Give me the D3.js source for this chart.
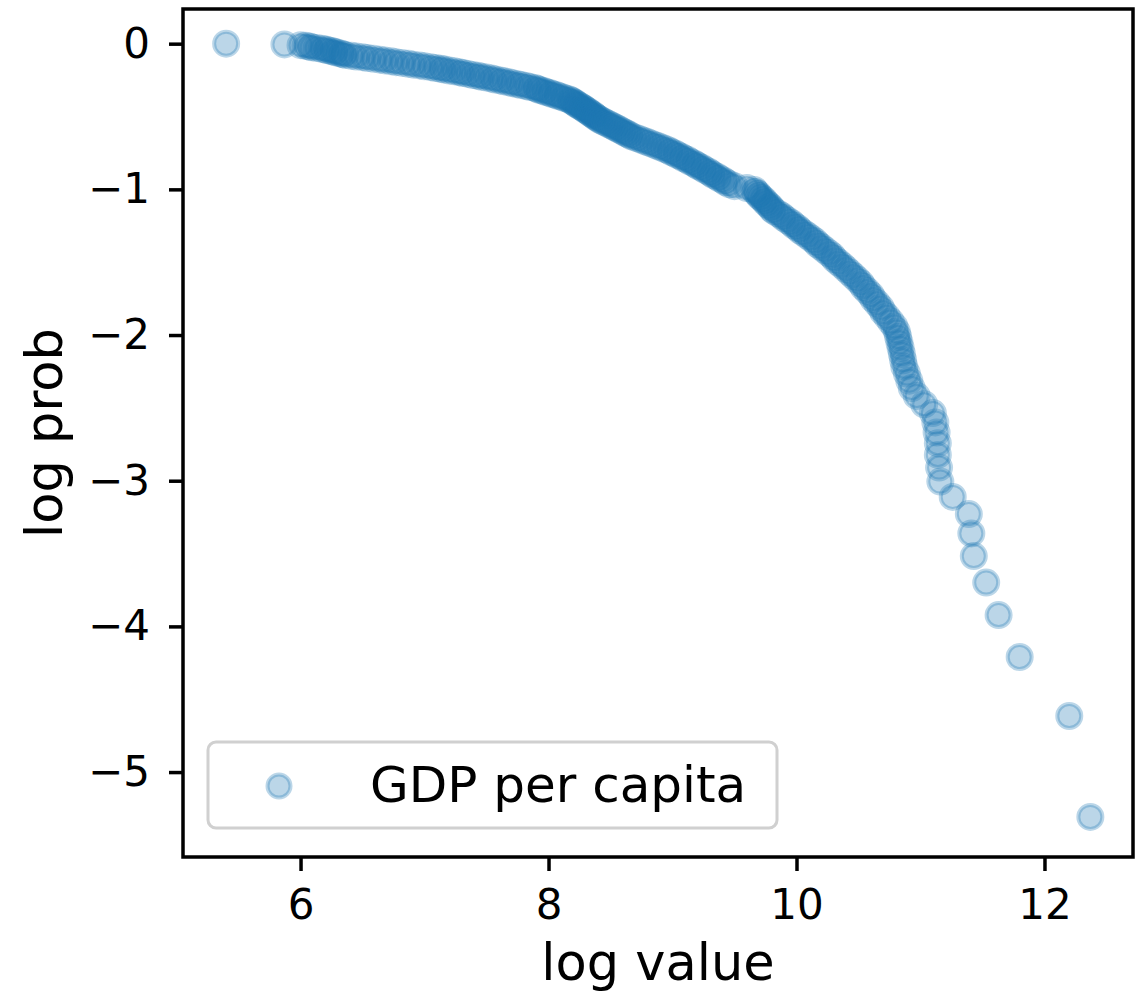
<!DOCTYPE html>
<html>
<head>
<meta charset="utf-8">
<script src="https://cdn.jsdelivr.net/npm/d3@7"></script>
<style>
  body { margin: 0; background: #fff; }
  svg { display: block; }
  text { font-family: "DejaVu Sans", sans-serif; }
</style>
</head>
<body>
<div id="chart"></div>
<script>
// log value of each point (sorted, lowest first)
const logValue = [
  5.40, 5.87, 6.00, 6.04, 6.07,
  6.09, 6.13, 6.17,
  6.20, 6.22, 6.25, 6.27, 6.29, 6.32, 6.34, 6.36,
  6.41, 6.45, 6.50, 6.54, 6.59, 6.64,
  6.68, 6.73, 6.77, 6.82, 6.87, 6.91,
  6.96, 7.00, 7.05, 7.09, 7.13, 7.16, 7.20, 7.24,
  7.28, 7.31, 7.35, 7.39, 7.43, 7.46, 7.50, 7.54, 7.57, 7.61, 7.64, 7.68, 7.71, 7.75, 7.78, 7.82,
  7.85, 7.89, 7.91, 7.93, 7.96, 7.98, 8.01, 8.03, 8.06, 8.08, 8.11, 8.13, 8.16,
  8.18, 8.19, 8.21, 8.22, 8.23, 8.25, 8.26, 8.28, 8.29, 8.30, 8.32, 8.33, 8.34, 8.36, 8.37, 8.38, 8.40, 8.41,
  8.43, 8.45, 8.47, 8.49, 8.51, 8.53, 8.55, 8.57, 8.59, 8.61, 8.63, 8.65, 8.67,
  8.70, 8.73, 8.76, 8.79, 8.82, 8.85, 8.88, 8.91, 8.94,
  8.97, 8.99, 9.02, 9.04, 9.07, 9.09, 9.12, 9.14, 9.17, 9.19, 9.21,
  9.24, 9.26, 9.29, 9.31, 9.33, 9.36, 9.38, 9.41, 9.43,
  9.46, 9.50, 9.60, 9.66,
  9.67, 9.69, 9.70, 9.72, 9.74, 9.75, 9.77, 9.79, 9.80,
  9.82, 9.85, 9.88, 9.90, 9.93, 9.96, 9.98, 10.01,
  10.03, 10.06, 10.09, 10.12, 10.15, 10.17, 10.20, 10.23, 10.26, 10.29,
  10.31, 10.34, 10.37, 10.40, 10.43, 10.46, 10.49,
  10.52, 10.54, 10.57, 10.60, 10.62, 10.65,
  10.68, 10.70, 10.73, 10.76, 10.79,
  10.81, 10.82, 10.83, 10.84, 10.85, 10.86,
  10.87, 10.89, 10.91, 10.93,
  10.97, 11.03, 11.10, 11.12, 11.13, 11.14, 11.14, 11.15, 11.16,
  11.26, 11.39, 11.41, 11.43, 11.53, 11.63, 11.80, 12.20, 12.37
];

// log prob of each point, same order
const logProb = [
  0.000, -0.005, -0.010, -0.015, -0.020,
  -0.025, -0.030, -0.035,
  -0.040, -0.046, -0.051, -0.056, -0.061, -0.067, -0.072, -0.077,
  -0.083, -0.088, -0.093, -0.099, -0.104, -0.110,
  -0.115, -0.121, -0.127, -0.132, -0.138, -0.144,
  -0.149, -0.155, -0.161, -0.167, -0.173, -0.178, -0.184, -0.190,
  -0.196, -0.202, -0.208, -0.215, -0.221, -0.227, -0.233, -0.239, -0.246, -0.252, -0.258, -0.265, -0.271, -0.278, -0.284, -0.291,
  -0.298, -0.304, -0.311, -0.318, -0.325, -0.332, -0.339, -0.346, -0.353, -0.360, -0.367, -0.374, -0.381,
  -0.388, -0.396, -0.403, -0.411, -0.418, -0.426, -0.433, -0.441, -0.449, -0.456, -0.464, -0.472, -0.480, -0.488, -0.496, -0.504, -0.513, -0.521,
  -0.529, -0.538, -0.546, -0.555, -0.563, -0.572, -0.581, -0.590, -0.599, -0.608, -0.617, -0.626, -0.636,
  -0.645, -0.654, -0.664, -0.674, -0.683, -0.693, -0.703, -0.713, -0.723,
  -0.734, -0.744, -0.754, -0.765, -0.776, -0.787, -0.797, -0.809, -0.820, -0.831, -0.842,
  -0.854, -0.866, -0.878, -0.890, -0.902, -0.914, -0.926, -0.939, -0.952,
  -0.965, -0.978, -0.991, -1.004,
  -1.018, -1.032, -1.046, -1.060, -1.074, -1.089, -1.104, -1.119, -1.134,
  -1.149, -1.165, -1.181, -1.197, -1.214, -1.231, -1.248, -1.265,
  -1.283, -1.301, -1.319, -1.338, -1.357, -1.377, -1.396, -1.417, -1.437, -1.458,
  -1.480, -1.502, -1.524, -1.547, -1.571, -1.595, -1.619,
  -1.645, -1.671, -1.697, -1.725, -1.753, -1.782,
  -1.812, -1.843, -1.874, -1.907, -1.941,
  -1.976, -2.013, -2.050, -2.089, -2.130, -2.173,
  -2.217, -2.264, -2.313, -2.364,
  -2.418, -2.475, -2.536, -2.600, -2.669, -2.743, -2.823, -2.910, -3.006,
  -3.111, -3.229, -3.362, -3.517, -3.699, -3.922, -4.210, -4.615, -5.308
];

const xTicks = [6, 8, 10, 12];
const yTicks = [0, -1, -2, -3, -4, -5];
const seriesName = "GDP per capita";

const width = 1146, height = 994;
const plot = { left: 183, top: 9, right: 1133, bottom: 857 };
const color = "#1f77b4";

const svg = d3.select("#chart").append("svg")
  .attr("width", width)
  .attr("height", height);

const x = d3.scaleLinear().domain([5.052, 12.714]).range([plot.left, plot.right]);
const y = d3.scaleLinear().domain([0.238, -5.583]).range([plot.top, plot.bottom]);

const points = logValue.map((v, i) => ({ x: v, y: logProb[i] }));

// points (face and edge both at alpha 0.3, like matplotlib)
svg.append("g")
  .selectAll("circle")
  .data(points)
  .enter()
  .append("circle")
  .attr("cx", d => x(d.x))
  .attr("cy", d => y(d.y))
  .attr("r", 12)
  .attr("fill", color)
  .attr("fill-opacity", 0.3)
  .attr("stroke", color)
  .attr("stroke-opacity", 0.3)
  .attr("stroke-width", 4);

// axes
const fmt = d3.format("d");
const xAxis = svg.append("g")
  .attr("transform", `translate(0,${plot.bottom})`)
  .call(d3.axisBottom(x).tickValues(xTicks).tickFormat(fmt).tickSize(14).tickPadding(18));

const yAxis = svg.append("g")
  .attr("transform", `translate(${plot.left},0)`)
  .call(d3.axisLeft(y).tickValues(yTicks).tickFormat(fmt).tickSize(14).tickPadding(19));

[xAxis, yAxis].forEach(g => {
  g.select(".domain").remove();
  g.selectAll(".tick line").attr("stroke", "#000").attr("stroke-width", 3.5);
  g.selectAll(".tick text")
    .attr("fill", "#000")
    .style("font-family", "'DejaVu Sans', sans-serif")
    .style("font-size", "42px");
});

// frame
svg.append("rect")
  .attr("x", plot.left)
  .attr("y", plot.top)
  .attr("width", plot.right - plot.left)
  .attr("height", plot.bottom - plot.top)
  .attr("fill", "none")
  .attr("stroke", "#000")
  .attr("stroke-width", 3.5);

// axis labels
svg.append("text")
  .attr("x", (plot.left + plot.right) / 2)
  .attr("y", 980)
  .attr("text-anchor", "middle")
  .style("font-size", "51px")
  .text("log value");

svg.append("text")
  .attr("transform", `translate(62,${(plot.top + plot.bottom) / 2}) rotate(-90)`)
  .attr("text-anchor", "middle")
  .style("font-size", "51px")
  .text("log prob");

// legend
const legend = svg.append("g");
legend.append("rect")
  .attr("x", 208).attr("y", 742)
  .attr("width", 569).attr("height", 86)
  .attr("rx", 8)
  .attr("fill", "#fff")
  .attr("fill-opacity", 0.8)
  .attr("stroke", "#d0d0d0")
  .attr("stroke-width", 3);
legend.append("circle")
  .attr("cx", 279).attr("cy", 786)
  .attr("r", 11.5)
  .attr("fill", color).attr("fill-opacity", 0.3)
  .attr("stroke", color).attr("stroke-opacity", 0.3)
  .attr("stroke-width", 4);
legend.append("text")
  .attr("x", 370).attr("y", 802)
  .style("font-size", "50px")
  .text(seriesName);
</script>
</body>
</html>
